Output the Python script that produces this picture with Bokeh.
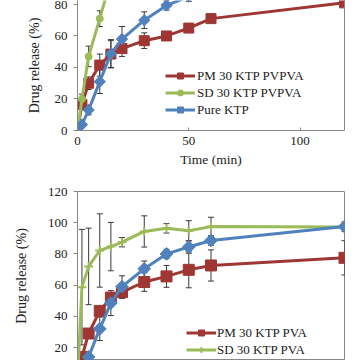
import math
from bokeh.plotting import figure
from bokeh.models import (ColumnDataSource, Whisker, TeeHead, Legend, LegendItem,
                          FixedTicker, Range1d, LinearAxis, Label)
from bokeh.layouts import column
from bokeh.embed import file_html
from bokeh.resources import INLINE

# ---------------- data ----------------
time_min = [0, 2, 5, 10, 15, 20, 30, 40, 50, 60, 120]

# Panel B (PVPVA)
pm_pvpva = [0, 16.5, 30, 41.5, 48.5, 52, 57, 60, 65, 71, 81]
pm_pvpva_err = [0, 3, 4, 7, 8.5, 5, 5, 2, 2, 2, 2]
sd_pvpva = [0, 20, 47, 71, 96, 98, 99, 99, 99, 100, 100]
sd_pvpva_err = [0, 3, 6.5, 5, 4, 3, 2, 2, 2, 2, 2]
pure_ktp_b = [0, 3.8, 13, 31, 48.7, 58, 70, 79.4, 85, 88, 97]
pure_ktp_b_err = [0, 2, 3, 7.5, 9, 8, 5.3, 3, 3, 3, 3]

# Panel C (PVA)
pm_pva = [0, 14, 29, 43.5, 52, 55.5, 62, 65.6, 69.8, 72.6, 77.5]
pm_pva_err = [0, 3, 3, 3, 3, 4, 6, 7, 11.5, 10, 11]
sd_pva = [0, 58.7, 72, 82.2, 84.7, 87.5, 94.4, 96.4, 94.8, 97.5, 97.2]
sd_pva_err = [0, 37, 24.5, 23.5, 15.5, 3, 10, 3, 6.5, 6, 1.5]
pure_ktp_c = [0, 5, 14, 32, 48.5, 59, 70.5, 80, 84.4, 88.6, 97.5]
pure_ktp_c_err = [0, 2, 3, 7.5, 8, 7, 5, 3, 4, 3, 3]

labels_b = ["PM 30 KTP PVPVA", "SD 30 KTP PVPVA", "Pure KTP"]
labels_c = ["PM 30 KTP PVA", "SD 30 KTP PVA", "Pure KTP"]
panel_c_letter = "C"

# ---------------- style ----------------
RED = "#9E3733"
GREEN = "#9BBB59"
BLUE = "#4F81BD"
AXIS = "#868686"
ERR = "#3a3a3a"
FONT = "Liberation Serif, Times New Roman, Times, serif"


def style_axes(p):
    for ax in p.xaxis + p.yaxis:
        ax.axis_line_color = AXIS
        ax.major_tick_line_color = AXIS
        ax.minor_tick_line_color = None
        ax.major_label_text_font = FONT
        ax.major_label_text_font_size = "13px"
        ax.major_label_text_color = "#222222"
        ax.axis_label_text_font = FONT
        ax.axis_label_text_font_style = "normal"
        ax.axis_label_text_color = "#222222"
    p.grid.visible = False


def add_series(p, y, err, color, marker, size):
    src = ColumnDataSource(dict(
        x=time_min, y=y,
        upper=[a + b for a, b in zip(y, err)],
        lower=[a - b for a, b in zip(y, err)],
    ))
    w = Whisker(base="x", upper="upper", lower="lower", source=src,
                line_color=ERR, line_width=1,
                upper_head=TeeHead(size=6, line_color=ERR, line_width=1),
                lower_head=TeeHead(size=6, line_color=ERR, line_width=1))
    p.add_layout(w)
    ln = p.line("x", "y", source=src, line_color=color, line_width=3)
    if marker == "cross":
        sc = p.scatter("x", "y", source=src, marker="cross", size=size,
                       line_color=color, line_width=2)
    elif marker == "diamond":
        sc = p.scatter("x", "y", source=src, marker="square", size=size,
                       angle=math.pi / 4, fill_color=color, line_color=color)
    else:
        sc = p.scatter("x", "y", source=src, marker=marker, size=size,
                       fill_color=color, line_color=color)
    return [ln, sc]


# ---------------- top panel (B) ----------------
p1 = figure(width=352, height=178, output_backend="svg", toolbar_location=None,
            x_range=Range1d(0, 120), y_range=Range1d(0, 82.5),
            min_border_left=77, min_border_right=8, min_border_top=0,
            min_border_bottom=48, outline_line_color=None,
            background_fill_color="white", border_fill_color="white")
r_pm = add_series(p1, pm_pvpva, pm_pvpva_err, RED, "square", 10)
r_sd = add_series(p1, sd_pvpva, sd_pvpva_err, GREEN, "circle", 7)
r_pk = add_series(p1, pure_ktp_b, pure_ktp_b_err, BLUE, "diamond", 8)

p1.xaxis.ticker = FixedTicker(ticks=[0, 50, 100])
p1.yaxis.ticker = FixedTicker(ticks=[0, 20, 40, 60, 80])
p1.xaxis.axis_label = "Time (min)"
p1.yaxis.axis_label = "Drug release (%)"
style_axes(p1)
p1.xaxis.major_tick_in = 3
p1.xaxis.major_tick_out = 0
p1.xaxis.major_label_standoff = 6
p1.xaxis.axis_label_standoff = 4
p1.xaxis.axis_label_text_font_size = "13.5px"
p1.yaxis.major_tick_in = 0
p1.yaxis.major_tick_out = 4
p1.yaxis.major_label_standoff = 6
p1.yaxis.axis_label_standoff = 10
p1.yaxis.axis_label_text_font_size = "14px"

right_ax = LinearAxis(ticker=FixedTicker(ticks=[]), axis_line_color=AXIS,
                      major_tick_line_color=None, minor_tick_line_color=None,
                      major_label_text_color=None)
p1.add_layout(right_ax, "right")

leg1 = Legend(items=[LegendItem(label=labels_b[0], renderers=r_pm),
                     LegendItem(label=labels_b[1], renderers=r_sd),
                     LegendItem(label=labels_b[2], renderers=r_pk)],
              location=(88, 12.5), padding=0, margin=0, spacing=1,
              label_height=15, glyph_height=15, glyph_width=30,
              label_standoff=2, label_text_font=FONT,
              label_text_font_size="13px", label_text_color="#222222",
              background_fill_alpha=0, border_line_color=None)
p1.add_layout(leg1)

# ---------------- bottom panel (C) ----------------
p2 = figure(width=352, height=182, output_backend="svg", toolbar_location=None,
            x_range=Range1d(0, 120), y_range=Range1d(11.7, 120),
            min_border_left=72, min_border_right=5, min_border_top=13,
            min_border_bottom=0, outline_line_color=AXIS,
            background_fill_color="white", border_fill_color="white")
c_pm = add_series(p2, pm_pva, pm_pva_err, RED, "square", 11)
c_sd = add_series(p2, sd_pva, sd_pva_err, GREEN, "cross", 9)
c_pk = add_series(p2, pure_ktp_c, pure_ktp_c_err, BLUE, "diamond", 9)

p2.xaxis.visible = False
p2.yaxis.ticker = FixedTicker(ticks=[0, 20, 40, 60, 80, 100, 120])
p2.yaxis.axis_label = "Drug release (%)"
style_axes(p2)
p2.yaxis.major_tick_in = 0
p2.yaxis.major_tick_out = 4
p2.yaxis.major_label_standoff = 6
p2.yaxis.axis_label_standoff = 16
p2.yaxis.axis_label_text_font_size = "14px"

leg2 = Legend(items=[LegendItem(label=labels_c[0], renderers=c_pm),
                     LegendItem(label=labels_c[1], renderers=c_sd),
                     LegendItem(label=labels_c[2], renderers=c_pk)],
              location=(109, -14.5), padding=0, margin=0, spacing=1,
              label_height=15, glyph_height=15, glyph_width=30,
              label_standoff=1, label_text_font=FONT,
              label_text_font_size="13px", label_text_color="#222222",
              background_fill_alpha=0, border_line_color=None)
p2.add_layout(leg2)

p2.add_layout(Label(x=-54, y=167, x_units="screen", y_units="screen",
                    text=panel_c_letter, text_font=FONT, text_font_size="14px",
                    text_color="#222222", text_align="center",
                    text_baseline="middle"))

layout = column(p1, p2, spacing=0)
open("out.html", "w").write(file_html(layout, INLINE))
